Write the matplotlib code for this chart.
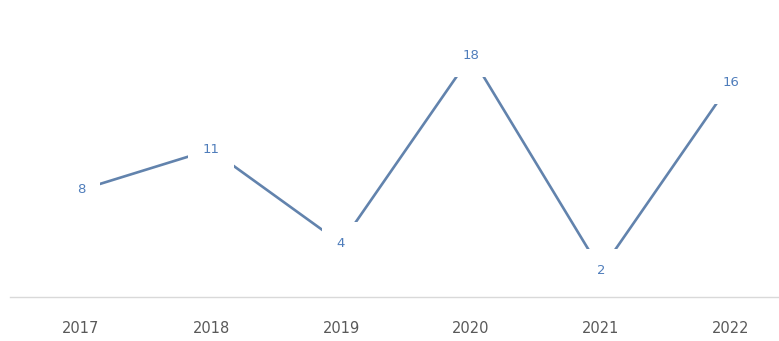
import matplotlib
matplotlib.use("Agg")
import matplotlib.pyplot as plt

years = ["2017", "2018", "2019", "2020", "2021", "2022"]
values = [8, 11, 4, 18, 2, 16]

W, H = 779, 341
fig = plt.figure(figsize=(W / 100, H / 100), dpi=100)
left_px, right_px = 10, 779
bottom_px, top_px = 297, 0
ax = fig.add_axes([left_px / W, 1 - bottom_px / H, (right_px - left_px) / W, (bottom_px - top_px) / H])

x = list(range(len(years)))
ax.plot(x, values, color="#6283ad", lw=1.9, solid_capstyle="butt", zorder=1)
for xi, v in zip(x, values):
    ax.text(xi, v, str(v), ha="center", va="center", fontsize=9.5, color="#4f7dbb",
            bbox=dict(boxstyle="square,pad=1.1", fc="white", ec="none"), zorder=3)

ax.set_xlim(-71 / 130, 5 + 48 / 130)
ax.set_ylim(0, 297 / 13.4)
ax.set_xticks(x)
ax.set_xticklabels(years, fontsize=10.5, color="#595959")
ax.tick_params(axis="x", length=0, pad=17)
ax.set_yticks([])
for s in ["top", "right", "left"]:
    ax.spines[s].set_visible(False)
ax.spines["bottom"].set_color("#d9d9d9")
ax.spines["bottom"].set_linewidth(1.0)

fig.savefig("out.png", dpi=100)
